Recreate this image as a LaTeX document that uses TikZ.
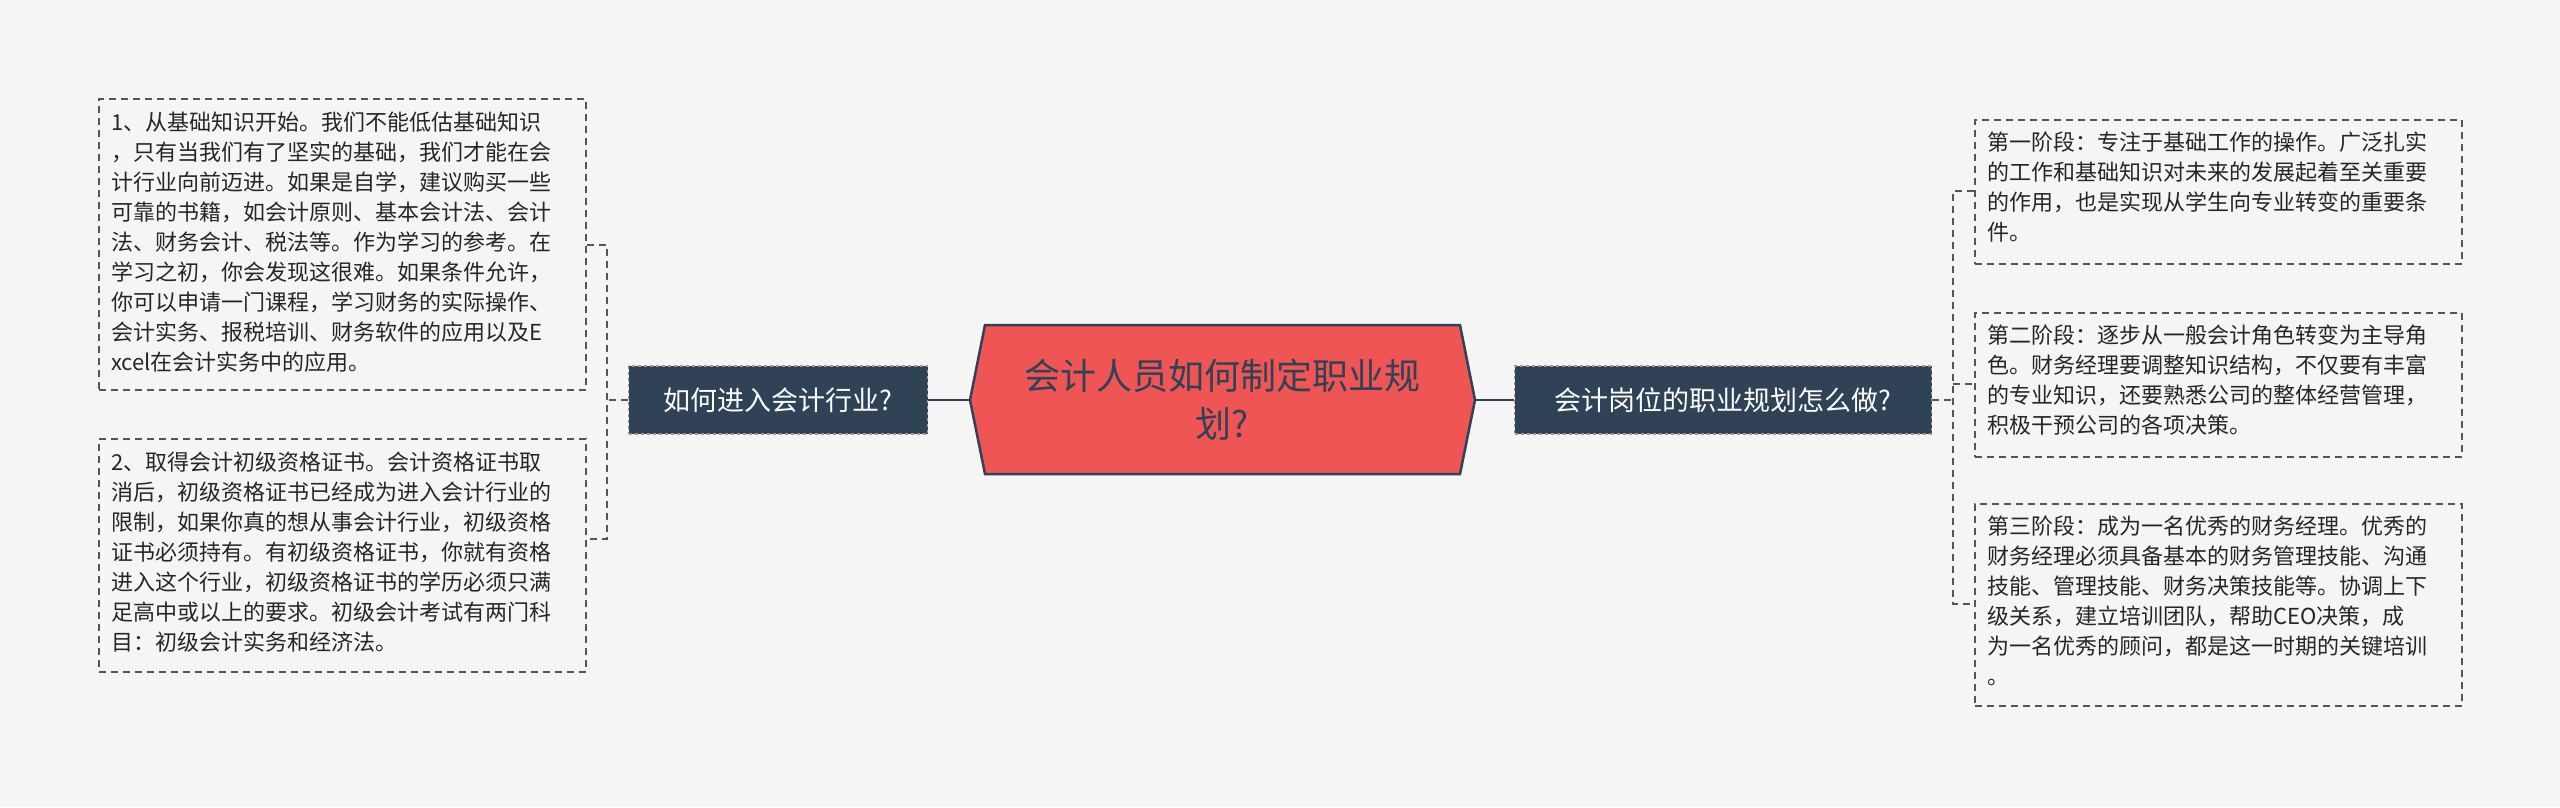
\documentclass[tikz,border=0pt]{standalone}
\usepackage{fontspec}
\setmainfont{Noto Sans CJK SC}
\usetikzlibrary{shapes.geometric}
\definecolor{bg}{HTML}{F5F5F5}
\definecolor{dk}{HTML}{2F4256}
\definecolor{rd}{HTML}{EF5555}
\definecolor{ln}{HTML}{555555}
\tikzset{x=1pt,y=-1pt,
 leaf/.style={draw=ln,dashed,line width=1.6pt,dash pattern=on 7pt off 5pt,fill=bg,anchor=north west,inner sep=0pt,align=left,font=\fontsize{22}{30}\selectfont,text=black!85},
 branch/.style={draw=ln!60,dashed,line width=1.5pt,fill=dk,text=white,font=\fontsize{27}{34}\selectfont,inner xsep=14pt,minimum height=68pt},
 con/.style={draw=dk,line width=2.5pt},
 brk/.style={draw=ln,line width=1.6pt,dash pattern=on 7pt off 5pt}}
\begin{document}
\begin{tikzpicture}
\fill[bg] (0,0) rectangle (2560,807);
\useasboundingbox (0,0) rectangle (2560,807);
% center
\node[draw=dk,line width=2.5pt,fill=rd,regular polygon,regular polygon sides=6,shape aspect=1,minimum size=10pt,inner sep=0pt] at (-100,-100) {};
\path[draw=dk,line width=2.5pt,fill=rd] (985,325) -- (1460,325) -- (1475,400) -- (1460,474) -- (985,474) -- (970,400) -- cycle;
\node[align=center,font=\fontsize{36}{48}\selectfont,text=dk] (c) at (1222,400) {会计人员如何制定职业规\\划?};
\coordinate (cl) at (970,400); \coordinate (cr) at (1475,400);
\node[branch,minimum width=299pt] (L) at (778,400) {如何进入会计行业?};
\node[branch,minimum width=417pt] (R) at (1723,400) {会计岗位的职业规划怎么做?};
\draw[con] (cl) -- (L.east);
\draw[con] (cr) -- (R.west);
% left leaves
\node[leaf,minimum width=487pt,minimum height=291pt,text width=460pt] (l1) at (98,98) {};
\node[anchor=north west,align=left,font=\fontsize{22}{30}\selectfont,text=black!85,inner sep=0pt] at (111,112) {1、从基础知识开始。我们不能低估基础知识\\，只有当我们有了坚实的基础，我们才能在会\\计行业向前迈进。如果是自学，建议购买一些\\可靠的书籍，如会计原则、基本会计法、会计\\法、财务会计、税法等。作为学习的参考。在\\学习之初，你会发现这很难。如果条件允许，\\你可以申请一门课程，学习财务的实际操作、\\会计实务、报税培训、财务软件的应用以及E\\xcel在会计实务中的应用。};
\node[leaf,minimum width=487pt,minimum height=233pt] (l2) at (98,438) {};
\node[anchor=north west,align=left,font=\fontsize{22}{30}\selectfont,text=black!85,inner sep=0pt] at (111,452) {2、取得会计初级资格证书。会计资格证书取\\消后，初级资格证书已经成为进入会计行业的\\限制，如果你真的想从事会计行业，初级资格\\证书必须持有。有初级资格证书，你就有资格\\进入这个行业，初级资格证书的学历必须只满\\足高中或以上的要求。初级会计考试有两门科\\目：初级会计实务和经济法。};
\coordinate (lb1) at (607,245); \coordinate (lb2) at (607,539);
\draw[brk] (L.west) -- (607,400);
\draw[brk] (l1.east |- lb1) -- (lb1) -- (lb2) -- (l2.east |- lb2);
% right leaves
\node[leaf,minimum width=487pt,minimum height=144pt] (r1) at (1974,119) {};
\node[anchor=north west,align=left,font=\fontsize{22}{30}\selectfont,text=black!85,inner sep=0pt] at (1987,132) {第一阶段：专注于基础工作的操作。广泛扎实\\的工作和基础知识对未来的发展起着至关重要\\的作用，也是实现从学生向专业转变的重要条\\件。};
\node[leaf,minimum width=487pt,minimum height=144pt] (r2) at (1974,312) {};
\node[anchor=north west,align=left,font=\fontsize{22}{30}\selectfont,text=black!85,inner sep=0pt] at (1987,325) {第二阶段：逐步从一般会计角色转变为主导角\\色。财务经理要调整知识结构，不仅要有丰富\\的专业知识，还要熟悉公司的整体经营管理，\\积极干预公司的各项决策。};
\node[leaf,minimum width=487pt,minimum height=202pt] (r3) at (1974,503) {};
\node[anchor=north west,align=left,font=\fontsize{22}{30}\selectfont,text=black!85,inner sep=0pt] at (1987,516) {第三阶段：成为一名优秀的财务经理。优秀的\\财务经理必须具备基本的财务管理技能、沟通\\技能、管理技能、财务决策技能等。协调上下\\级关系，建立培训团队，帮助CEO决策，成\\为一名优秀的顾问，都是这一时期的关键培训\\。};
\coordinate (rb1) at (1953,191); \coordinate (rb3) at (1953,604);
\draw[brk] (R.east) -- (1953,400);
\draw[brk] (r1.west |- rb1) -- (rb1) -- (rb3) -- (r3.west |- rb3);
\draw[brk] (1953,384) -- (r2.west |- 0,384);
\end{tikzpicture}
\end{document}
